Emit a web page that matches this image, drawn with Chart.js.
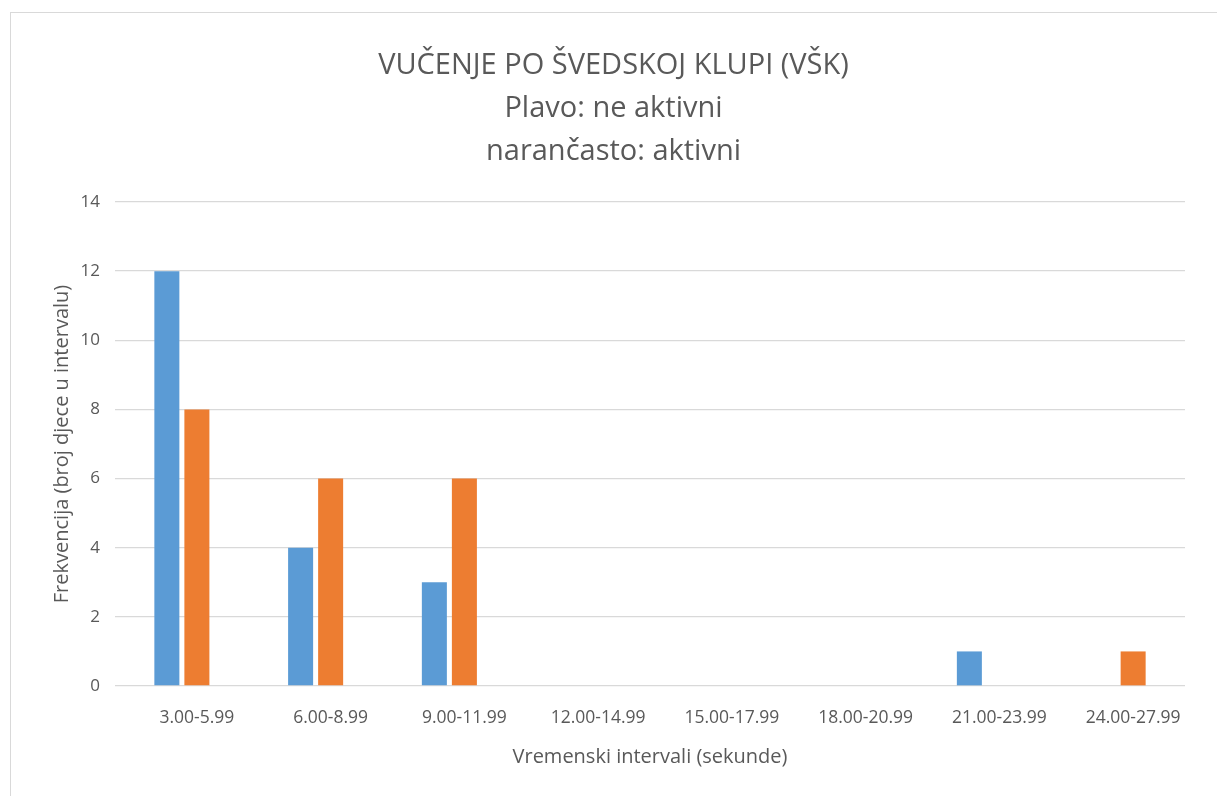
<!DOCTYPE html>
<html>
<head>
<meta charset="utf-8">
<script src="https://cdn.jsdelivr.net/npm/chart.js@4/dist/chart.umd.min.js"></script>
<style>
  html, body { margin: 0; padding: 0; background: #fff; }
  #wrap { position: absolute; left: 0; top: 0; width: 1217px; height: 796px; }
  #frame { position: absolute; left: 10px; top: 12px; width: 1215px; height: 800px; border: 1px solid #d9d9d9; box-sizing: border-box; }
</style>
</head>
<body>
<div id="frame"></div>
<div id="wrap"><canvas id="chart" width="1217" height="796"></canvas></div>
<script>
// intervali (sekunde)
const categories = ["3.00-5.99", "6.00-8.99", "9.00-11.99", "12.00-14.99", "15.00-17.99", "18.00-20.99", "21.00-23.99", "24.00-27.99"];
// plavo: ne aktivni
const neAktivni = [12, 4, 3, 0, 0, 0, 1, 0];
// narancasto: aktivni
const aktivni = [8, 6, 6, 0, 0, 0, 0, 1];
const titleLines = ["VUČENJE PO ŠVEDSKOJ KLUPI (VŠK)", "Plavo: ne aktivni", "narančasto: aktivni"];

const textColor = "#595959";
const font = "'Open Sans', sans-serif";

const ctx = document.getElementById("chart").getContext("2d");
const chart = new Chart(ctx, {
  type: "bar",
  data: {
    labels: categories,
    datasets: [
      {
        label: "ne aktivni",
        data: neAktivni,
        backgroundColor: "#5B9BD5",
        categoryPercentage: 0.449,
        barPercentage: 0.833,
      },
      {
        label: "aktivni",
        data: aktivni,
        backgroundColor: "#ED7D31",
        categoryPercentage: 0.449,
        barPercentage: 0.833,
      },
    ],
  },
  options: {
    responsive: false,
    animation: false,
    layout: {
      padding: { left: 42, right: 32, top: 20, bottom: 20 },
    },
    plugins: {
      legend: { display: false },
      tooltip: { enabled: false },
      title: {
        display: true,
        text: titleLines,
        color: textColor,
        font: { family: font, size: 29, weight: "normal", lineHeight: 43 / 29 },
        padding: { top: 24, bottom: 29 },
      },
    },
    scales: {
      x: {
        afterFit: (scale) => { scale.height = 90; },
        grid: { display: false },
        border: { display: false },
        ticks: {
          color: textColor,
          font: { family: font, size: 17.5 },
          padding: 14,
          labelOffset: 15,
          maxRotation: 0,
          autoSkip: false,
        },
        title: {
          display: true,
          text: "Vremenski intervali (sekunde)",
          color: textColor,
          font: { family: font, size: 20 },
          padding: { top: 0, bottom: 7 },
        },
      },
      y: {
        min: 0,
        max: 14,
        afterFit: (scale) => { scale.width = 73; },
        grid: { color: "#d9d9d9", lineWidth: 1.3, drawTicks: false },
        border: { display: false },
        ticks: {
          stepSize: 2,
          color: textColor,
          font: { family: font, size: 17 },
          padding: 15,
        },
        title: {
          display: true,
          text: "Frekvencija (broj djece u intervalu)",
          color: textColor,
          font: { family: font, size: 20 },
          padding: { top: 8, bottom: 0 },
        },
      },
    },
  },
});
</script>
</body>
</html>
